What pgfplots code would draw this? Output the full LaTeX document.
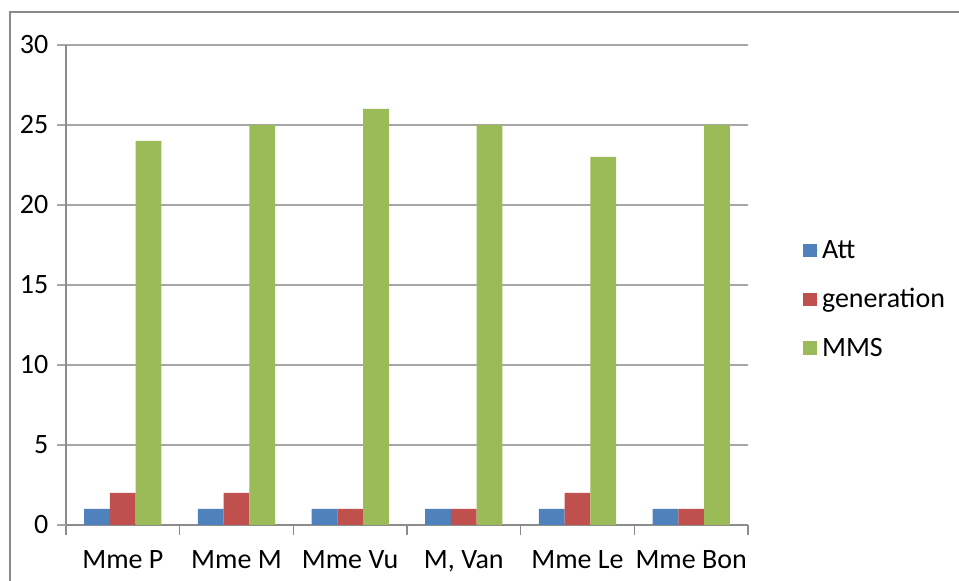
\documentclass[border=0pt]{standalone}
\usepackage{pgfplots}
\pgfplotsset{compat=1.18}
\usepackage{fontspec}
\setmainfont{Carlito}
\definecolor{attblue}{HTML}{4F81BD}
\definecolor{genred}{HTML}{C0504D}
\definecolor{mmsgreen}{HTML}{9BBB59}
\definecolor{axisgray}{HTML}{8C8C8C}
\definecolor{gridgray}{HTML}{A6A6A6}
\definecolor{framegray}{HTML}{8A8A8A}
\begin{document}
\begin{tikzpicture}
  \useasboundingbox (-49.5pt,-42pt) rectangle (669.75pt,393.75pt);
  \draw[framegray, line width=1.5pt] (-42pt,-60pt) -- (-42pt,384.75pt) -- (700pt,384.75pt);
  \begin{axis}[
    at={(0,0)}, anchor=south west,
    scale only axis,
    width=511.5pt, height=360pt,
    ybar=0pt,
    bar width=19.3pt,
    xmin=-0.5, xmax=5.5,
    ymin=0, ymax=30,
    ytick={0,5,...,30},
    xtick={0,...,5},
    xticklabels={Mme P, Mme M, Mme Vu, {M, Van}, Mme Le, Mme Bon},
    minor xtick={-0.5,0.5,...,5.5},
    axis x line*=bottom,
    axis y line*=left,
    axis line style={axisgray, line width=0.9pt, -},
    tick align=outside,
    major tick length=6.75pt,
    minor tick length=7.5pt,
    major x tick style={draw=none},
    minor x tick style={axisgray, line width=0.9pt},
    ytick style={gridgray, line width=0.9pt},
    ymajorgrids,
    major grid style={gridgray, line width=0.9pt},
    tick label style={font=\fontsize{21}{25}\selectfont, text=black},
    /pgf/number format/assume math mode=true,
    xticklabel style={yshift=-9pt},
    yticklabel style={xshift=-3pt},
    legend style={draw=none, at={(1.075,0.47)}, anchor=west,
      font=\fontsize{21}{25}\selectfont, row sep=17pt,
      legend cell align=left},
    legend image code/.code={\fill[#1] (0pt,-5pt) rectangle (10pt,5pt);
      \path (0pt,0pt) -- (12pt,0pt);},
  ]
  \addplot[fill=attblue, draw=none] coordinates {(0,1)(1,1)(2,1)(3,1)(4,1)(5,1)};
  \addplot[fill=genred, draw=none] coordinates {(0,2)(1,2)(2,1)(3,1)(4,2)(5,1)};
  \addplot[fill=mmsgreen, draw=none] coordinates {(0,24)(1,25)(2,26)(3,25)(4,23)(5,25)};
  \legend{Att, generation, MMS}
  \end{axis}
\end{tikzpicture}
\end{document}
